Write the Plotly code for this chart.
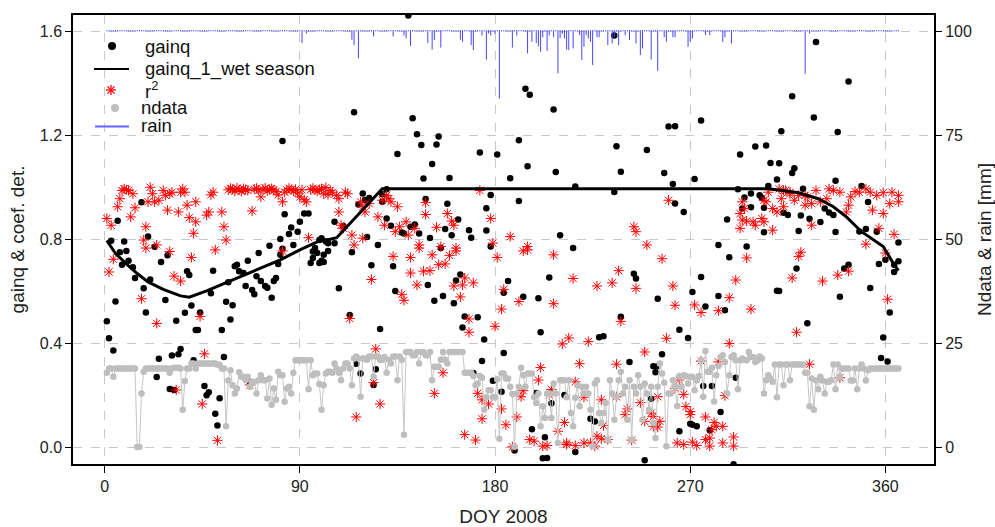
import plotly.graph_objects as go

# ---------------- data ----------------
# gainq estimates: (DOY, gainq)
gainq = [
    (1, 0.484), (2, 0.419), (3, 0.794), (4, 0.372), (5, 0.560), (6, 0.871), (7, 0.750), (8, 0.702),
    (9, 0.791), (10, 0.755), (11, 0.717), (13, 0.692), (14, 0.651), (17, 0.942), (18, 0.611), (19, 0.518),
    (20, 0.811), (21, 0.645), (23, 0.771), (24, 0.270), (25, 0.340), (26, 0.712), (28, 0.566), (29, 0.738),
    (30, 0.224), (31, 0.353), (32, 0.220), (33, 0.486), (34, 0.357), (35, 0.378), (37, 0.517), (38, 0.677),
    (39, 0.662), (40, 0.545), (41, 0.334), (42, 0.451), (43, 0.451), (44, 0.518), (46, 0.235), (47, 0.200),
    (48, 0.211), (49, 0.592), (50, 0.679), (51, 0.128), (52, 0.083), (53, 0.188), (54, 0.451), (55, 0.347),
    (56, 0.559), (57, 0.634), (58, 0.491), (59, 0.546), (60, 0.696), (61, 0.702), (62, 0.677), (64, 0.670),
    (65, 0.620), (66, 0.717), (67, 0.251), (68, 0.605), (69, 0.588), (70, 0.658), (71, 0.747), (72, 0.639),
    (74, 0.620), (75, 0.613), (76, 0.775), (77, 0.575), (78, 0.639), (79, 0.651), (80, 0.705), (81, 0.740),
    (81, 0.801), (82, 0.763), (82, 1.178), (83, 0.896), (85, 0.820), (86, 0.845), (87, 0.778), (89, 0.829),
    (90, 0.867), (92, 0.899), (94, 0.899), (95, 0.709), (96, 0.728), (96, 0.753), (97, 0.766), (98, 0.747),
    (99, 0.709), (99, 0.797), (100, 0.717), (100, 0.804), (101, 0.740), (101, 0.712), (102, 0.791),
    (103, 0.785), (103, 0.755), (106, 0.867), (106, 0.785), (108, 0.611), (110, 0.851), (113, 0.508),
    (114, 0.750), (115, 1.289), (116, 0.321), (117, 0.934), (118, 0.283), (119, 0.976), (120, 0.951),
    (121, 0.809), (122, 0.959), (123, 0.700), (124, 0.239), (125, 0.300), (126, 0.778), (127, 0.455),
    (128, 0.973), (128, 0.944), (130, 0.992), (130, 0.880), (132, 0.852), (133, 0.696), (134, 0.601),
    (135, 1.128), (137, 0.826), (138, 0.822), (140, 1.661), (141, 0.848), (142, 1.266), (143, 0.857),
    (144, 1.204), (145, 0.822), (146, 1.163), (147, 1.034), (148, 0.955), (149, 0.624), (150, 0.805),
    (151, 1.090), (152, 0.563), (153, 1.165), (154, 1.195), (155, 0.766), (156, 0.582), (157, 0.839),
    (158, 0.937), (159, 1.036), (160, 0.815), (161, 0.554), (162, 0.641), (163, 0.876), (164, 0.664),
    (165, 0.460), (166, 0.503), (168, 0.835), (169, 0.806), (170, 0.285), (172, 0.500), (173, 1.134),
    (174, 0.331), (175, 0.414), (176, 0.919), (176, 0.834), (178, 0.970), (178, 0.772), (179, 0.255),
    (181, 1.126), (183, 0.213), (184, 0.362), (184, 0.594), (186, 0.639), (187, 1.035), (189, -0.013),
    (191, 1.181), (191, 0.947), (193, 0.579), (194, 1.379), (195, 1.081), (196, 1.356), (197, 0.069),
    (199, 0.208), (200, 0.573), (201, 0.442), (202, -0.043), (203, 0.038), (204, -0.042), (205, 0.653),
    (206, 0.169), (207, 1.299), (208, 1.059), (210, 0.815), (212, 0.201), (216, 0.766), (217, 1.003),
    (217, -0.019), (224, 0.109), (226, 0.099), (228, 0.423), (230, 0.427), (235, 1.584), (235, 0.982),
    (236, 1.158), (238, 1.060), (238, 0.502), (242, 0.328), (244, 0.667), (245, 0.649), (249, -0.051),
    (250, 1.143), (252, 0.186), (253, 0.311), (254, 0.288), (255, 0.311), (255, 0.571), (257, 0.357),
    (258, 1.055), (260, 1.234), (262, 1.013), (263, 1.235), (263, 0.938), (265, 0.452), (265, 0.061),
    (267, 0.905), (269, 0.420), (270, 0.090), (271, 0.597), (271, 0.086), (272, 1.032), (273, 0.080),
    (275, 1.257), (275, 0.655), (276, 0.235), (277, 0.541), (279, 0.065), (280, 0.235), (283, 0.778),
    (283, 0.582), (284, 0.135), (286, 0.527), (287, 0.876), (288, 0.731), (290, -0.066), (291, 0.267),
    (292, 0.992), (293, 1.126), (294, 0.918), (295, 0.961), (296, 0.772), (298, 0.976), (298, 0.923),
    (300, 1.157), (302, 0.969), (303, 0.960), (304, 0.921), (304, 0.827), (305, 1.161), (306, 1.005),
    (307, 1.093), (310, 1.030), (310, 0.602), (311, 1.092), (311, 0.601), (312, 1.216), (313, 0.902),
    (315, 0.893), (317, 1.350), (317, 1.055), (318, 1.073), (319, 0.687), (320, 0.832), (321, 0.891),
    (322, 0.994), (324, 0.477), (325, 0.879), (327, 1.269), (328, 1.559), (330, 0.866), (332, 0.918),
    (334, 0.903), (336, 0.893), (337, 1.025), (337, 0.828), (338, 1.213), (339, 0.579), (341, 0.687),
    (343, 0.702), (343, 1.407), (348, 0.830), (349, 1.005), (351, 0.839), (352, 0.943), (353, 0.612),
    (356, 0.829), (357, 0.705), (358, 0.343), (359, 0.422), (360, 0.721), (361, 0.329), (362, 0.518),
    (364, 0.674), (364, 0.702), (366, 0.715), (366, 0.787),
]

# coefficient of determination of each daily fit: (DOY, r2)
r2 = [
    (1, 0.880), (2, 0.674), (3, 0.854), (4, 0.723), (6, 0.925), (7, 0.956), (8, 0.988), (9, 0.994),
    (10, 0.990), (11, 0.988), (12, 0.886), (13, 0.975), (14, 0.921), (17, 0.571), (18, 0.797), (19, 0.848),
    (19, 0.766), (20, 0.944), (21, 1.000), (22, 0.975), (23, 0.944), (24, 0.778), (24, 0.476), (25, 0.950),
    (27, 0.988), (28, 0.969), (29, 0.912), (30, 0.975), (30, 0.753), (31, 0.981), (32, 0.658), (33, 0.220),
    (34, 0.905), (35, 0.981), (35, 0.639), (36, 0.994), (37, 0.981), (38, 0.931), (39, 0.883), (40, 0.730),
    (41, 0.823), (42, 0.867), (42, 0.944), (44, 0.503), (45, 0.166), (46, 0.359), (47, 0.893), (48, 0.905),
    (49, 0.971), (50, 0.981), (51, 0.759), (52, 0.026), (54, 0.905), (55, 0.848), (56, 0.797),
    (57, 0.990), (58, 0.996), (59, 0.992), (60, 0.985), (61, 0.997), (62, 0.990), (63, 0.984), (64, 0.995),
    (65, 0.991), (66, 0.988), (67, 0.239), (68, 0.909), (69, 0.993), (70, 0.996), (71, 0.989), (72, 0.963),
    (73, 0.992), (74, 0.997), (75, 0.986), (76, 0.991), (77, 0.995), (78, 0.990), (79, 0.984), (80, 0.971),
    (82, 0.944), (82, 0.755), (83, 0.981), (84, 0.990), (85, 0.996), (86, 0.991), (87, 0.986), (88, 0.992),
    (89, 0.978), (90, 0.963), (91, 0.990), (92, 0.952), (93, 0.944), (94, 0.806), (95, 0.991), (96, 0.996),
    (97, 0.990), (98, 0.985), (99, 0.991), (100, 0.994), (101, 0.975), (102, 0.999), (103, 0.972),
    (104, 0.988), (105, 0.981), (107, 0.969), (108, 0.956), (108, 0.905), (109, 0.854), (110, 0.842),
    (111, 0.981), (112, 0.975), (113, 0.495), (114, 0.816), (115, 0.778), (116, 0.116), (118, 0.944),
    (119, 0.925), (119, 0.804), (120, 0.905), (122, 0.937), (123, 0.645), (124, 0.248), (125, 0.378),
    (126, 0.886), (127, 0.166), (128, 0.950), (129, 0.854), (130, 0.969), (131, 0.956), (132, 0.944),
    (133, 0.734), (134, 0.829), (135, 0.925), (136, 0.848), (137, 0.588), (138, 0.565), (139, 0.867),
    (140, 0.816), (141, 0.730), (141, 0.670), (143, 0.842), (144, 0.624), (145, 0.766), (145, 0.778),
    (147, 0.677), (148, 0.941), (148, 0.895), (150, 0.679), (151, 0.740), (152, 0.207), (153, 0.846),
    (154, 0.702), (155, 0.772), (156, 0.286), (157, 0.705), (158, 0.899), (159, 0.738), (160, 0.870),
    (161, 0.854), (161, 0.620), (162, 0.755), (162, 0.766), (164, 0.578), (165, 0.624), (166, 0.651),
    (166, 0.048), (168, 0.493), (168, 0.442), (170, 0.632), (171, 0.027), (172, 0.207), (173, 0.988),
    (174, 0.182), (174, 0.109), (177, 0.166), (178, 0.880), (179, 0.785), (180, 0.465), (181, 0.730),
    (183, 0.531), (183, 0.147), (184, 0.607), (185, 0.086), (187, 0.810), (188, 0.001), (190, 0.116),
    (191, 0.560), (192, 0.194), (193, 0.755), (193, 0.217), (195, 0.759), (195, 0.772), (196, 0.029),
    (198, 0.023), (200, 0.258), (201, 0.306), (202, 0.004), (204, 0.006), (205, 0.201), (206, 0.222),
    (207, 0.740), (207, 0.552), (209, 0.061), (211, 0.397), (212, 0.095), (213, 0.010), (213, 0.016),
    (214, 0.420), (216, 0.649), (217, 0.251), (217, 0.006), (219, 0.321), (221, 0.192), (221, 0.016),
    (223, 0.406), (224, 0.016), (226, 0.004), (227, 0.620), (227, 0.042), (229, 0.182), (229, 0.032),
    (230, 0.083), (232, 0.029), (234, 0.632), (236, 0.319), (236, 0.194), (237, 0.679), (238, 0.484),
    (240, 0.125), (241, 0.147), (243, 0.027), (244, 0.848), (245, 0.829), (245, 0.611), (247, 0.171),
    (249, 0.366), (249, 0.099), (250, 0.778), (252, 0.131), (253, 0.118), (253, 0.080), (255, 0.194),
    (255, 0.077), (256, 0.099), (257, 0.725), (259, 0.419), (260, 0.950), (262, 0.620), (263, 0.546),
    (263, 0.226), (264, 0.016), (265, 0.258), (267, 0.203), (267, 0.010), (268, 0.156), (270, 0.137),
    (270, 0.125), (271, 0.019), (272, 0.547), (273, 0.006), (275, 0.518), (275, 0.331), (277, 0.116),
    (277, 0.029), (279, 0.035), (279, 0.004), (280, 0.067), (281, 0.095), (282, 0.080), (283, 0.525),
    (283, 0.328), (285, 0.080), (285, 0.016), (286, 0.198), (288, 0.575), (288, 0.399), (290, 0.004),
    (290, 0.039), (291, 0.643), (293, 0.899), (293, 0.842), (294, 0.944), (294, 0.874), (295, 0.918),
    (296, 0.870), (296, 0.728), (298, 0.531), (299, 0.867), (300, 0.854), (303, 0.880), (304, 0.867),
    (304, 0.950), (305, 0.944), (306, 0.981), (308, 0.918), (308, 0.835), (310, 0.905), (311, 0.994),
    (312, 0.956), (313, 0.925), (313, 0.988), (314, 0.988), (316, 0.981), (316, 0.975), (317, 0.651),
    (318, 0.950), (319, 0.442), (320, 0.969), (320, 0.734), (321, 0.750), (323, 0.931), (323, 0.969),
    (324, 0.963), (325, 0.319), (326, 0.937), (326, 0.854), (328, 0.988), (330, 0.944), (331, 0.639),
    (333, 0.956), (334, 0.994), (336, 0.988), (338, 0.662), (339, 0.981), (339, 0.267), (342, 0.905),
    (343, 0.931), (343, 0.677), (344, 0.963), (346, 0.984), (348, 0.981), (351, 0.994), (351, 0.781),
    (353, 0.981), (354, 0.912), (356, 0.969), (357, 0.842), (359, 0.899), (359, 0.979), (360, 0.747),
    (361, 0.569), (362, 0.937), (363, 0.981), (364, 0.819), (366, 0.944), (366, 0.969),
]

# seasonal gain model (wet season), vertices (DOY, gain)
wet_doy = [1, 5, 10, 15, 20, 27, 35, 39, 47, 58, 69, 81, 90, 98, 104, 107, 128,
           306, 320, 329, 336, 342, 349, 359, 364, 366]
wet_gain = [0.795, 0.745, 0.705, 0.668, 0.636, 0.607, 0.582, 0.577, 0.601, 0.639, 0.677, 0.721,
            0.759, 0.790, 0.800, 0.806, 0.994, 0.994, 0.979, 0.956, 0.925, 0.886, 0.829, 0.772,
            0.702, 0.679]

# number of valid half-hours per day, DOY 1..366
ndata = [
    17.9, 18.9, 18.9, 16.9, 18.9, 18.9, 18.9, 18.9, 18.9, 18.9,
    18.9, 18.9, 18.9, 18.9, 0.0, 0.0, 12.9, 18.1, 18.9, 18.9,
    18.9, 18.9, 18.9, 18.9, 18.9, 18.9, 18.9, 18.9, 18.9, 17.9,
    18.9, 19.1, 19.1, 19.1, 18.9, 9.0, 15.9, 18.9, 18.9, 20.1,
    20.1, 18.9, 20.1, 20.1, 20.1, 20.1, 20.1, 20.1, 20.1, 20.1,
    20.1, 19.8, 19.8, 18.9, 18.9, 5.0, 16.0, 18.5, 14.9, 12.9,
    14.1, 18.0, 16.9, 16.9, 16.1, 16.9, 14.5, 15.7, 15.7, 12.9,
    16.1, 17.3, 16.1, 16.1, 11.7, 16.5, 10.2, 14.1, 11.4, 18.1,
    17.3, 17.3, 10.9, 14.1, 14.5, 12.9, 17.9, 20.9, 20.9, 20.9,
    20.9, 20.9, 20.9, 13.9, 20.9, 17.3, 17.7, 17.7, 15.2, 9.0,
    14.9, 17.7, 18.1, 18.1, 17.9, 20.1, 18.9, 17.9, 16.1, 18.9,
    20.1, 20.1, 18.9, 14.9, 21.3, 21.8, 21.3, 12.1, 21.3, 21.3,
    21.0, 21.8, 21.8, 16.9, 21.8, 21.8, 21.0, 21.0, 21.7, 17.9,
    21.0, 20.1, 21.8, 21.8, 16.1, 21.8, 21.0, 3.0, 22.9, 22.9,
    22.9, 22.1, 22.1, 22.9, 20.1, 22.9, 22.9, 22.1, 22.1, 22.9,
    16.1, 19.3, 19.3, 19.3, 21.0, 22.9, 21.0, 20.1, 22.9, 22.9,
    22.9, 22.9, 22.9, 22.9, 22.9, 17.9, 17.9, 17.9, 17.9, 17.1,
    14.9, 15.3, 17.1, 16.7, 9.0, 12.0, 13.7, 13.7, 12.0, 12.0,
    16.3, 2.0, 17.7, 17.7, 16.5, 16.5, 14.5, 12.8, 0.1, 12.9,
    14.5, 19.1, 17.3, 14.5, 17.7, 17.7, 17.7, 12.0, 10.6, 12.9,
    5.0, 9.8, 7.0, 12.9, 12.9, 7.0, 15.3, 12.9, 1.0, 16.1,
    16.1, 16.1, 12.0, 16.1, 8.2, 5.0, 11.9, 14.9, 9.8, 14.5,
    12.9, 14.5, 12.9, 9.0, 0.2, 15.3, 16.1, 8.2, 5.8, 8.2,
    10.6, 1.8, 16.1, 12.9, 6.6, 12.1, 16.1, 18.1, 12.9, 14.5,
    6.6, 16.1, 1.8, 14.5, 12.9, 17.3, 14.5, 6.6, 15.3, 12.9,
    9.0, 14.5, 5.8, 2.2, 14.5, 20.1, 17.7, 15.5, 0.2, 12.9,
    12.9, 16.1, 14.5, 9.9, 17.1, 14.5, 17.3, 17.1, 15.3, 16.9,
    16.9, 13.7, 16.0, 17.1, 20.9, 12.1, 23.1, 18.1, 18.1, 19.1,
    11.0, 17.3, 19.5, 21.7, 22.1, 20.5, 12.9, 17.3, 21.7, 22.1,
    20.9, 13.9, 20.9, 21.3, 21.0, 20.9, 22.9, 21.7, 21.7, 20.5,
    20.9, 21.8, 21.3, 12.9, 16.1, 17.3, 16.5, 15.7, 19.9, 12.0,
    19.9, 19.9, 14.9, 19.9, 19.9, 16.1, 19.9, 19.9, 19.9, 19.9,
    19.9, 19.9, 17.9, 17.9, 9.8, 16.5, 9.0, 16.0, 13.9, 16.9,
    16.0, 12.9, 15.7, 15.7, 16.1, 19.9, 13.9, 19.9, 16.9, 18.9,
    18.9, 18.9, 18.9, 16.0, 16.0, 18.9, 13.9, 18.9, 19.9, 18.9,
    16.0, 18.5, 18.9, 18.9, 18.9, 18.9, 18.9, 18.9, 18.9, 18.9,
    18.9, 18.9, 18.9, 18.9, 18.9, 18.9,
]

# daily rain [mm]; days not listed had no rain
rain_events = [
    (91, 2.8), (93, 0.5), (114, 2.0), (115, 3.3), (117, 6.5), (124, 1.2), (133, 1.2), (138, 1.0),
    (139, 1.7), (141, 3.5), (149, 2.8), (151, 4.4), (152, 2.1), (155, 3.9), (164, 2.0), (165, 2.5),
    (169, 3.3), (170, 4.5), (174, 1.0), (176, 6.8), (177, 0.5), (178, 1.0), (180, 0.6), (182, 16.2),
    (188, 3.9), (190, 1.0), (195, 5.3), (197, 2.5), (199, 2.8), (200, 3.6), (201, 4.9), (202, 1.4),
    (204, 4.7), (205, 1.0), (207, 1.4), (209, 10.1), (210, 1.7), (211, 0.6), (212, 1.7), (213, 4.4),
    (214, 4.5), (216, 4.1), (219, 0.9), (220, 6.9), (221, 3.7), (222, 0.9), (223, 1.7), (224, 2.5),
    (225, 8.1), (227, 1.4), (228, 1.4), (232, 3.3), (234, 2.9), (235, 1.4), (237, 3.3), (240, 0.9),
    (242, 2.1), (245, 2.9), (247, 5.7), (248, 4.1), (252, 6.8), (255, 9.5), (258, 1.4), (259, 2.5),
    (262, 1.4), (263, 1.4), (269, 3.7), (270, 2.5), (271, 1.7), (277, 0.9), (279, 0.9), (285, 2.5),
    (286, 1.4), (289, 2.9), (323, 10.2), (325, 0.5),
]

x_ticks = [0, 90, 180, 270, 360]
left_ticks = [0.0, 0.4, 0.8, 1.2, 1.6]
right_ticks = [0, 25, 50, 75, 100]

# ---------------- derived ----------------
doy = list(range(1, 367))
rain = [0.0] * 366
for d, mm in rain_events:
    rain[d - 1] = mm

RIGHT_PER_LEFT = 62.5          # 1.6 on the left axis equals 100 on the right axis
RAIN_TOP = 100                 # rain hangs down from the top of the right axis
left_range = [-0.065, 1.663]
right_range = [v * RIGHT_PER_LEFT for v in left_range]

rain_x, rain_y = [], []
for d, mm in zip(doy, rain):
    rain_x += [d, d, None]
    rain_y += [RAIN_TOP + 0.3, RAIN_TOP - mm, None]

FONT = "Liberation Sans, Arial, sans-serif"
BLACK, RED, GREY, BLUE = "black", "red", "#bebebe", "rgb(70,70,255)"

# plot area in pixels (layout)
W, H = 995, 527
ML, MR, MT, MB = 73, 61, 15, 63
PW, PH = W - ML - MR, H - MT - MB


def px(xp):
    return (xp - ML) / PW


def py(yp):
    return (H - MB - yp) / PH


fig = go.Figure()

fig.add_trace(go.Scatter(
    x=[d for d, _ in gainq], y=[v for _, v in gainq], mode="markers", name="gainq",
    marker=dict(color=BLACK, size=6.5, line=dict(width=0))))

fig.add_trace(go.Scatter(
    x=doy, y=ndata, mode="lines", yaxis="y2", name="ndata line", hoverinfo="skip",
    line=dict(color="#c6c6c6", width=1)))
fig.add_trace(go.Scatter(
    x=doy, y=ndata, mode="markers", yaxis="y2", name="ndata",
    marker=dict(color=GREY, size=6.5, line=dict(width=0))))

fig.add_trace(go.Scatter(
    x=[d for d, _ in r2], y=[v for _, v in r2], mode="markers", name="r2",
    marker=dict(symbol="asterisk-open", color=RED, size=8.5, line=dict(color=RED, width=1))))

fig.add_trace(go.Scatter(
    x=wet_doy, y=wet_gain, mode="lines", name="gainq_1_wet season",
    line=dict(color=BLACK, width=3)))

fig.add_trace(go.Scatter(
    x=rain_x, y=rain_y, mode="lines", yaxis="y2", name="rain",
    line=dict(color=BLUE, width=1)))

# ---------------- legend (top left, inside the frame) ----------------
shapes = []
annotations = []


def dot(xc, yc, d, color):
    shapes.append(dict(type="circle", xref="paper", yref="paper", xsizemode="pixel",
                       ysizemode="pixel", xanchor=px(xc), yanchor=py(yc),
                       x0=-d / 2, x1=d / 2, y0=-d / 2, y1=d / 2,
                       fillcolor=color, line=dict(width=0)))


def seg(x0, x1, yc, color, width):
    shapes.append(dict(type="line", xref="paper", yref="paper", x0=px(x0), x1=px(x1),
                       y0=py(yc), y1=py(yc), line=dict(color=color, width=width)))


def star(xc, yc, r, color):
    for dx, dy in [(r, 0), (0, r), (r * 0.72, r * 0.72), (r * 0.72, -r * 0.72)]:
        shapes.append(dict(type="line", xref="paper", yref="paper", xsizemode="pixel",
                           ysizemode="pixel", xanchor=px(xc), yanchor=py(yc),
                           x0=-dx, x1=dx, y0=-dy, y1=dy, line=dict(color=color, width=1.3)))


def label(text, xl, yc):
    annotations.append(dict(text=text, xref="paper", yref="paper", x=px(xl), y=py(yc),
                            xanchor="left", yanchor="middle", showarrow=False,
                            borderpad=0, font=dict(family=FONT, size=18.5, color="#111")))


dot(112, 46, 8, BLACK)
label("gainq", 144, 46.5)
seg(94, 129, 69, BLACK, 2)
label("gainq_1_wet season", 144, 68.5)
star(111, 90, 5, RED)
label("r<sup>2</sup>", 144, 89.5)
dot(115, 108, 8, GREY)
label("ndata", 140, 107)
seg(95, 129, 126.5, "rgb(100,100,255)", 2)
label("rain", 140, 125.5)

grid = dict(showgrid=True, gridcolor="#c8c8c8", griddash="dash", gridwidth=1)

fig.update_layout(
    width=W, height=H,
    margin=dict(l=ML, r=MR, t=MT, b=MB),
    paper_bgcolor="white", plot_bgcolor="white",
    font=dict(family=FONT, size=16, color="#222"),
    showlegend=False,
    shapes=shapes, annotations=annotations,
    xaxis=dict(range=[-14.6, 382.4], tickvals=x_ticks, ticks="outside", ticklen=7,
               tickcolor="black", showline=True, linecolor="black", linewidth=1.5,
               mirror=True, zeroline=False, title=dict(text="DOY 2008", standoff=18),
               automargin=False, **grid),
    yaxis=dict(range=left_range, tickvals=left_ticks,
               ticktext=[f"{v:.1f}" for v in left_ticks], ticks="outside", ticklen=6,
               tickcolor="black", showline=True, linecolor="black", linewidth=1.5,
               mirror=True, zeroline=False, title=dict(text="gainq &amp; coef. det.", standoff=10),
               automargin=False, **grid),
    yaxis2=dict(range=right_range, tickvals=right_ticks, overlaying="y", side="right",
                ticks="outside", ticklen=7, tickcolor="black", showgrid=False,
                zeroline=False, showline=False,
                title=dict(text="Ndata &amp; rain [mm]", standoff=8), automargin=False),
)

fig.write_html("out.html")
